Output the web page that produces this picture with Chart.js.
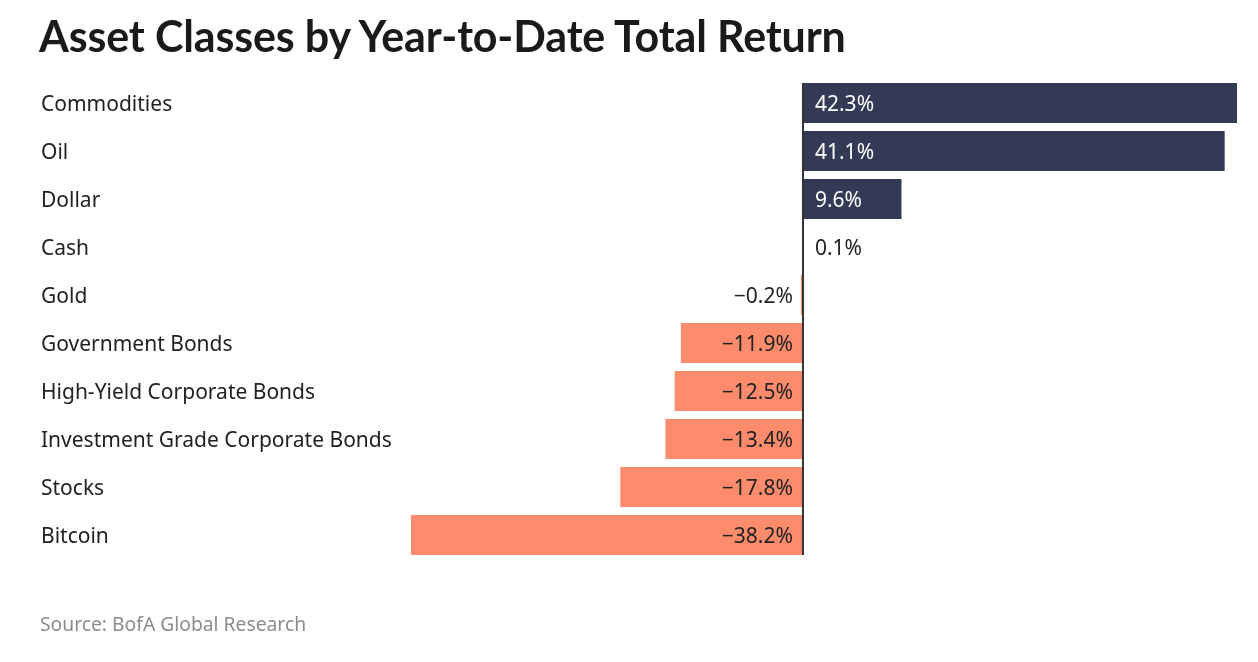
<!DOCTYPE html>
<html>
<head>
<meta charset="utf-8">
<script src="https://cdn.jsdelivr.net/npm/chart.js@4"></script>
<style>
    body { margin: 0; background: #fff; }
    #wrap { position: relative; width: 1258px; height: 662px; }
    #title { position: absolute; left: 39px; top: 10px; font: bold 43px Lato, sans-serif; color: #1a1a1a; letter-spacing: -0.15px; }
    #source { position: absolute; left: 40px; top: 610px; font: 19.3px "Noto Sans", sans-serif; color: #8c8c8c; }
    canvas { position: absolute; left: 0; top: 0; }
</style>
</head>
<body>
<div id="wrap">
    <canvas id="chart" width="1258" height="662"></canvas>
    <div id="title">Asset Classes by Year-to-Date Total Return</div>
    <div id="source">Source: BofA Global Research</div>
</div>
<script>
const categories = ['Commodities', 'Oil', 'Dollar', 'Cash', 'Gold', 'Government Bonds',
    'High-Yield Corporate Bonds', 'Investment Grade Corporate Bonds', 'Stocks', 'Bitcoin'];
const returns = [42.3, 41.1, 9.6, 0.1, -0.2, -11.9, -12.5, -13.4, -17.8, -38.2];

const POS_COLOR = '#333a56';
const NEG_COLOR = '#fe8b6c';
const TEXT_COLOR = '#222';
const FONT = '21px "Noto Sans", sans-serif';

function fmt(v) {
    const s = Math.abs(v).toFixed(1) + '%';
    return v < 0 ? '\u2212' + s : s;
}

// labels, values and the zero line
const labelsPlugin = {
    id: 'labels',
    afterDatasetsDraw(chart) {
        const ctx = chart.ctx;
        const x = chart.scales.x;
        const y = chart.scales.y;
        const zero = x.getPixelForValue(0);
        ctx.save();
        ctx.font = FONT;
        ctx.textBaseline = 'middle';

        categories.forEach((cat, i) => {
            const yy = y.getPixelForValue(i) + 2;
            ctx.fillStyle = TEXT_COLOR;
            ctx.textAlign = 'left';
            ctx.fillText(cat, 41, yy);

            const v = returns[i];
            const txt = fmt(v);
            if (v >= 0) {
                const barEnd = x.getPixelForValue(v);
                const w = ctx.measureText(txt).width;
                ctx.fillStyle = (barEnd - zero > w + 20) ? '#fff' : TEXT_COLOR;
                ctx.textAlign = 'left';
                ctx.fillText(txt, zero + 12, yy);
            } else {
                ctx.fillStyle = TEXT_COLOR;
                ctx.textAlign = 'right';
                ctx.fillText(txt, zero - 10, yy);
            }
        });

        const meta = chart.getDatasetMeta(0);
        const first = meta.data[0];
        const last = meta.data[meta.data.length - 1];
        ctx.strokeStyle = '#333';
        ctx.lineWidth = 2;
        ctx.beginPath();
        ctx.moveTo(zero, first.y - first.height / 2);
        ctx.lineTo(zero, last.y + last.height / 2);
        ctx.stroke();
        ctx.restore();
    }
};

new Chart(document.getElementById('chart'), {
    type: 'bar',
    data: {
        labels: categories,
        datasets: [{
            data: returns,
            backgroundColor: returns.map(v => v >= 0 ? POS_COLOR : NEG_COLOR),
            borderWidth: 0,
            categoryPercentage: 1,
            barPercentage: 40 / 48
        }]
    },
    options: {
        indexAxis: 'y',
        responsive: false,
        animation: false,
        layout: {
            padding: { left: 411, right: 21, top: 79, bottom: 103 }
        },
        scales: {
            x: { display: false, min: -38.2, max: 42.3, grid: { display: false } },
            y: { display: false, grid: { display: false } }
        },
        plugins: {
            legend: { display: false },
            tooltip: { enabled: false }
        }
    },
    plugins: [labelsPlugin]
});
</script>
</body>
</html>
